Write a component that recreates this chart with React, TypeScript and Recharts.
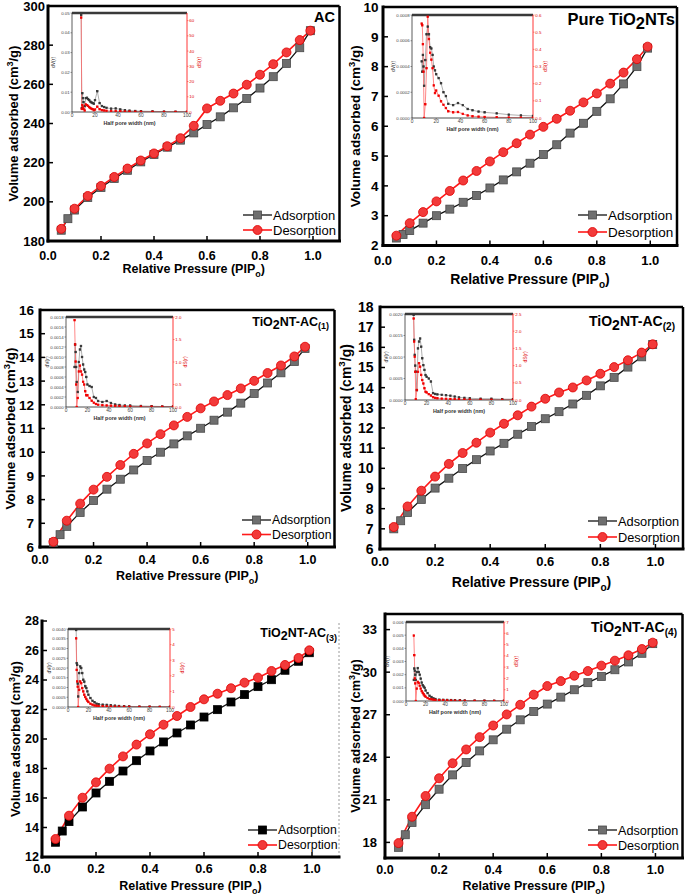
import React from 'react';
import { LineChart, Line, XAxis, YAxis, ReferenceLine, Legend } from 'recharts';

const FONT = '"Liberation Sans", Arial, Helvetica, sans-serif';

// ---------- main isotherm data ----------
const ADS_P = [0.05, 0.075, 0.1, 0.15, 0.2, 0.25, 0.3, 0.35, 0.4, 0.45, 0.5, 0.55, 0.6, 0.65, 0.7, 0.75, 0.8, 0.85, 0.9, 0.95, 0.99];
const DES_P = [0.05, 0.1, 0.15, 0.2, 0.25, 0.3, 0.35, 0.4, 0.45, 0.5, 0.55, 0.6, 0.65, 0.7, 0.75, 0.8, 0.85, 0.9, 0.95, 0.99];
const X_TICKS = [0, 0.2, 0.4, 0.6, 0.8, 1.0];

const AC_ADS = [185.5, 191.4, 195.8, 202.2, 207.3, 211.9, 216.1, 220.4, 224.2, 227.9, 231.5, 235.2, 239.5, 243.4, 248.0, 252.8, 258.1, 263.9, 270.7, 278.7, 287.4];
const AC_DES = [186.2, 196.5, 203.0, 208.1, 212.7, 217.0, 221.1, 224.7, 228.4, 232.5, 238.8, 247.7, 251.6, 255.3, 259.8, 264.9, 270.3, 276.3, 282.6, 287.4];
const AC_Y_TICKS = [180, 200, 220, 240, 260, 280, 300];

const TNT_ADS = [2.25, 2.37, 2.5, 2.75, 3.0, 3.22, 3.45, 3.68, 3.93, 4.2, 4.47, 4.76, 5.05, 5.38, 5.77, 6.1, 6.5, 6.92, 7.42, 8.0, 8.62];
const TNT_DES = [2.33, 2.75, 3.12, 3.48, 3.83, 4.18, 4.5, 4.82, 5.13, 5.43, 5.72, 5.98, 6.25, 6.52, 6.8, 7.1, 7.43, 7.8, 8.25, 8.67];
const TNT_Y_TICKS = [2, 3, 4, 5, 6, 7, 8, 9, 10];

const AC1_ADS = [6.18, 6.52, 6.87, 7.46, 7.96, 8.44, 8.86, 9.25, 9.65, 10.0, 10.35, 10.69, 11.01, 11.35, 11.69, 12.07, 12.48, 12.92, 13.35, 13.83, 14.38];
const AC1_DES = [6.22, 7.11, 7.83, 8.42, 8.96, 9.46, 9.93, 10.37, 10.76, 11.13, 11.49, 11.85, 12.14, 12.41, 12.69, 13.01, 13.34, 13.66, 14.04, 14.45];
const AC1_Y_TICKS = [6, 7, 8, 9, 10, 11, 12, 13, 14, 15, 16];

const AC2_ADS = [7.0, 7.4, 7.81, 8.46, 9.02, 9.51, 9.99, 10.43, 10.86, 11.24, 11.69, 12.07, 12.46, 12.81, 13.19, 13.62, 14.09, 14.51, 15.02, 15.53, 16.14];
const AC2_DES = [7.09, 8.11, 8.89, 9.59, 10.22, 10.76, 11.27, 11.77, 12.21, 12.63, 13.06, 13.45, 13.76, 14.01, 14.36, 14.69, 15.02, 15.36, 15.74, 16.15];
const AC2_Y_TICKS = [6, 7, 8, 9, 10, 11, 12, 13, 14, 15, 16, 17, 18];

const AC3_ADS = [13.0, 13.76, 14.4, 15.39, 16.34, 17.13, 17.83, 18.53, 19.19, 19.8, 20.41, 20.95, 21.49, 21.99, 22.51, 23.01, 23.55, 24.02, 24.66, 25.27, 25.85];
const AC3_DES = [13.22, 14.8, 16.02, 17.06, 17.99, 18.82, 19.62, 20.32, 20.97, 21.56, 22.17, 22.69, 23.07, 23.44, 23.82, 24.16, 24.61, 25.02, 25.49, 26.01];
const AC3_Y_TICKS = [12, 14, 16, 18, 20, 22, 24, 26, 28];

const AC4_ADS = [17.65, 18.54, 19.41, 20.66, 21.75, 22.76, 23.63, 24.45, 25.23, 25.98, 26.64, 27.23, 27.75, 28.24, 28.76, 29.26, 29.7, 30.17, 30.72, 31.33, 32.01];
const AC4_DES = [17.95, 19.81, 21.27, 22.52, 23.58, 24.55, 25.42, 26.24, 27.02, 27.7, 28.41, 29.02, 29.37, 29.75, 30.08, 30.46, 30.81, 31.19, 31.63, 32.08];
const AC4_Y_TICKS = [18, 21, 24, 27, 30, 33];

// ---------- inset pore-size data ----------
const PORE_W = [8, 8.5, 9, 9.5, 10, 11, 12, 13, 14, 15, 16, 17, 18, 19, 20, 22, 24, 26, 28, 30, 34, 38, 42, 46, 50, 55, 60, 70, 80, 90, 100];
const PORE_TICKS = [0, 20, 40, 60, 80, 100];

const AC_DV = [0.049, 0.002, 0.0095, 0.007, 0.005, 0.003, 0.007, 0.0072, 0.0065, 0.006, 0.0052, 0.0048, 0.0045, 0.0042, 0.006, 0.0105, 0.0045, 0.003, 0.0025, 0.0021, 0.0017, 0.0018, 0.0013, 0.0009, 0.0007, 0.0005, 0.0004, 0.0003, 0.0002, 0.00015, 0.0001];
const AC_DS = [62, 2, 4.5, 3, 2, 1, 5, 4.5, 4, 3.2, 2.6, 2.1, 1.8, 1.2, 1.6, 3.5, 1.8, 1.2, 1.0, 0.8, 0.6, 0.6, 0.45, 0.35, 0.3, 0.22, 0.18, 0.14, 0.1, 0.08, 0.05];
const AC_DV_TICKS = [0, 0.01, 0.02, 0.03, 0.04, 0.05];
const AC_DS_TICKS = [0, 10, 20, 30, 40, 50, 60];

const TNT_DV = [0.00044, 0.00036, 0.00049, 0.0004, 0.00025, 0.00045, 0.00065, 0.00071, 0.00065, 0.00055, 0.00054, 0.00049, 0.0004, 0.00037, 0.00034, 0.00031, 0.00027, 0.0002, 0.00017, 0.00011, 0.0001, 0.000116, 0.0001, 0.00007, 0.00006, 0.00005, 0.000044, 0.000036, 0.000026, 0.00002, 0.000016];
const TNT_DS = [0.55, 0.54, 0.43, 0.27, 0.0, 0.08, 0.29, 0.59, 0.46, 0.38, 0.34, 0.29, 0.19, 0.145, 0.16, 0.13, 0.097, 0.077, 0.058, 0.039, 0.033, 0.035, 0.024, 0.015, 0.01, 0.008, 0.006, 0.004, 0.003, 0.002, 0.002];
const TNT_DV_TICKS = [0, 0.0002, 0.0004, 0.0006, 0.0008];
const TNT_DS_TICKS = [0, 0.1, 0.2, 0.3, 0.4, 0.5, 0.6];

const AC1_DV = [0.0008, 0.00125, 0.0011, 0.0008, 0.0005, 0.0003, 0.0009, 0.00115, 0.00122, 0.001, 0.00085, 0.00075, 0.0007, 0.0006, 0.00045, 0.00042, 0.0004, 0.0002, 0.00018, 0.00012, 0.0001, 0.00012, 0.00008, 0.00005, 0.00004, 0.00003, 0.00003, 0.00002, 0.000015, 0.00001, 0.00001];
const AC1_DS = [1.93, 1.39, 1.01, 0.5, 0.0, 0.2, 0.79, 0.92, 0.79, 0.72, 0.56, 0.5, 0.35, 0.26, 0.26, 0.2, 0.14, 0.096, 0.067, 0.05, 0.04, 0.035, 0.03, 0.025, 0.02, 0.015, 0.012, 0.01, 0.008, 0.006, 0.005];
const AC1_DV_TICKS = [0, 0.0002, 0.0004, 0.0006, 0.0008, 0.001, 0.0012, 0.0014, 0.0016, 0.0018];
const AC1_DS_TICKS = [0, 0.5, 1.0, 1.5, 2.0];

const AC2_DV = [0.00198, 0.0014, 0.00105, 0.0008, 0.00066, 0.00023, 0.0012, 0.00136, 0.00143, 0.00124, 0.00097, 0.00081, 0.0007, 0.00058, 0.00054, 0.0005, 0.00043, 0.00016, 0.00014, 0.00013, 0.00012, 0.00011, 0.0001, 0.00008, 0.00006, 0.00005, 0.00004, 0.00003, 0.00003, 0.00002, 0.00002];
const AC2_DS = [2.37, 1.7, 1.26, 0.82, 0.02, 0.29, 0.82, 1.07, 0.97, 0.73, 0.58, 0.48, 0.34, 0.24, 0.22, 0.17, 0.13, 0.08, 0.06, 0.05, 0.04, 0.035, 0.03, 0.025, 0.02, 0.015, 0.01, 0.01, 0.008, 0.006, 0.005];
const AC2_DV_TICKS = [0, 0.0005, 0.001, 0.0015, 0.002];
const AC2_DS_TICKS = [0, 0.5, 1.0, 1.5, 2.0, 2.5];

const AC3_DV = [0.00395, 0.00225, 0.00216, 0.0012, 0.00054, 0.00174, 0.00208, 0.002, 0.00174, 0.0014, 0.0013, 0.00106, 0.00097, 0.0008, 0.00063, 0.00046, 0.00032, 0.00024, 0.00017, 0.00014, 0.00012, 0.00011, 0.00009, 0.00007, 0.00005, 0.00004, 0.00003, 0.00002, 0.00002, 0.00001, 0.00001];
const AC3_DS = [4.4, 2.38, 1.64, 1.3, 0, 1.1, 1.64, 1.53, 1.21, 1.0, 0.79, 0.64, 0.51, 0.4, 0.32, 0.21, 0.15, 0.1, 0.08, 0.06, 0.05, 0.04, 0.03, 0.025, 0.02, 0.015, 0.01, 0.008, 0.006, 0.005, 0.004];
const AC3_DV_TICKS = [0, 0.0005, 0.001, 0.0015, 0.002, 0.0025, 0.003, 0.0035, 0.004];
const AC3_DS_TICKS = [0, 1, 2, 3, 4, 5];

const AC4_DV = [0.0016, 0.00247, 0.0023, 0.002, 0.0016, 0.0022, 0.0025, 0.0022, 0.002, 0.0017, 0.0014, 0.0012, 0.0011, 0.001, 0.0008, 0.0006, 0.0004, 0.0003, 0.0002, 0.00015, 0.0001, 0.00009, 0.00008, 0.00007, 0.00006, 0.00005, 0.00004, 0.00003, 0.00003, 0.00002, 0.00002];
const AC4_DS = [5.8, 4.06, 2.0, 1.56, 0, 1.1, 1.7, 1.6, 1.35, 1.1, 0.88, 0.73, 0.59, 0.47, 0.38, 0.26, 0.18, 0.15, 0.12, 0.09, 0.07, 0.06, 0.05, 0.04, 0.03, 0.025, 0.02, 0.015, 0.01, 0.01, 0.01];
const AC4_DV_TICKS = [0, 0.001, 0.002, 0.003, 0.004, 0.005, 0.006];
const AC4_DS_TICKS = [0, 1, 2, 3, 4, 5, 6, 7];

// ---------- layout / style configuration ----------
const PANELS: any[] = [
  {
    key: 'ac', ads: AC_ADS, des: AC_DES, yTicks: AC_Y_TICKS, yDomain: [180, 300],
    title: [{ t: 'AC' }], titleX: 335, titleY: 22, titleFont: 14.5,
    x0: 48, x1: 339.5, y0: 6, y1: 241,
    yTickFont: 13, xTickFont: 12.5, yTickGap: 3, xTickGap: 10,
    yLabFont: 13, yLabDx: -35, xLabFont: 12.5, xLabDy: 32,
    legX: 243, legY: 215, legGap: 15, legFont: 13, adsFill: '#6f6f6f', adsStroke: '#4a4a4a', frame: 'full',
    inset: { x0: 72, x1: 187, y0: 13, y1: 112, dv: AC_DV, ds: AC_DS, dvTicks: AC_DV_TICKS, dsTicks: AC_DS_TICKS, dvMax: 0.05, dsMax: 65, dvDec: 2, dsDec: 0 },
  },
  {
    key: 'tnt', ads: TNT_ADS, des: TNT_DES, yTicks: TNT_Y_TICKS, yDomain: [2, 10],
    title: [{ t: 'Pure TiO' }, { t: '2', shift: 3.5 }, { t: 'NTs' }], titleX: 675, titleY: 25, titleFont: 16.5,
    x0: 383, x1: 677, y0: 6.5, y1: 245,
    yTickFont: 13.5, xTickFont: 13, yTickGap: 4.5, xTickGap: 10,
    yLabFont: 13.5, yLabDx: -28, xLabFont: 14, xLabDy: 38,
    legX: 578, legY: 215, legGap: 17, legFont: 13.5, adsFill: '#6f6f6f', adsStroke: '#4a4a4a', frame: 'full',
    inset: { x0: 412, x1: 533, y0: 15, y1: 118, dv: TNT_DV, ds: TNT_DS, dvTicks: TNT_DV_TICKS, dsTicks: TNT_DS_TICKS, dvMax: 0.0008, dsMax: 0.6, dvDec: 4, dsDec: 1 },
  },
  {
    key: 'ac1', ads: AC1_ADS, des: AC1_DES, yTicks: AC1_Y_TICKS, yDomain: [6, 16],
    title: [{ t: 'TiO' }, { t: '2', shift: 3 }, { t: 'NT-AC' }, { t: '(1)', sub: true }], titleX: 329, titleY: 325.5, titleFont: 12.5,
    x0: 39.5, x1: 334, y0: 310, y1: 547,
    yTickFont: 13.5, xTickFont: 12.5, yTickGap: 6, xTickGap: 8,
    yLabFont: 13.5, yLabDx: -29.5, xLabFont: 12.5, xLabDy: 33,
    legX: 242, legY: 520, legGap: 14.5, legFont: 12.3, adsFill: '#6f6f6f', adsStroke: '#4a4a4a', frame: 'full',
    inset: { x0: 66, x1: 173, y0: 317, y1: 407, dv: AC1_DV, ds: AC1_DS, dvTicks: AC1_DV_TICKS, dsTicks: AC1_DS_TICKS, dvMax: 0.0018, dsMax: 2.0, dvDec: 4, dsDec: 1 },
  },
  {
    key: 'ac2', ads: AC2_ADS, des: AC2_DES, yTicks: AC2_Y_TICKS, yDomain: [6, 18],
    title: [{ t: 'TiO' }, { t: '2', shift: 3.5 }, { t: 'NT-AC' }, { t: '(2)', sub: true }], titleX: 675, titleY: 326, titleFont: 14,
    x0: 379.5, x1: 682.5, y0: 307, y1: 549,
    yTickFont: 14, xTickFont: 13, yTickGap: 6.5, xTickGap: 8,
    yLabFont: 14, yLabDx: -34.5, xLabFont: 14, xLabDy: 38,
    legX: 588, legY: 521, legGap: 16, legFont: 12.8, adsFill: '#6f6f6f', adsStroke: '#4a4a4a', frame: 'full',
    inset: { x0: 405, x1: 513, y0: 314, y1: 400, dv: AC2_DV, ds: AC2_DS, dvTicks: AC2_DV_TICKS, dsTicks: AC2_DS_TICKS, dvMax: 0.002, dsMax: 2.5, dvDec: 4, dsDec: 1 },
  },
  {
    key: 'ac3', ads: AC3_ADS, des: AC3_DES, yTicks: AC3_Y_TICKS, yDomain: [12, 28],
    title: [{ t: 'TiO' }, { t: '2', shift: 3 }, { t: 'NT-AC' }, { t: '(3)', sub: true }], titleX: 337, titleY: 637, titleFont: 12.5,
    x0: 41.5, x1: 338.5, y0: 621, y1: 857,
    yTickFont: 12.5, xTickFont: 12.5, yTickGap: 3, xTickGap: 7,
    yLabFont: 13, yLabDx: -26.5, xLabFont: 12.5, xLabDy: 33,
    legX: 248, legY: 830, legGap: 15, legFont: 12.3, adsFill: '#000', adsStroke: '#000', frame: 'light',
    inset: { x0: 68, x1: 170, y0: 629, y1: 707, dv: AC3_DV, ds: AC3_DS, dvTicks: AC3_DV_TICKS, dsTicks: AC3_DS_TICKS, dvMax: 0.004, dsMax: 5, dvDec: 4, dsDec: 0 },
  },
  {
    key: 'ac4', ads: AC4_ADS, des: AC4_DES, yTicks: AC4_Y_TICKS, yDomain: [16.9, 34.1],
    title: [{ t: 'TiO' }, { t: '2', shift: 3.5 }, { t: 'NT-AC' }, { t: '(4)', sub: true }], titleX: 677, titleY: 632, titleFont: 14,
    x0: 384.5, x1: 682, y0: 614, y1: 858,
    yTickFont: 13, xTickFont: 12.5, yTickGap: 8, xTickGap: 7,
    yLabFont: 12.8, yLabDx: -29.5, xLabFont: 12.5, xLabDy: 32,
    legX: 588, legY: 830, legGap: 15, legFont: 12.6, adsFill: '#6f6f6f', adsStroke: '#4a4a4a', frame: 'full',
    inset: { x0: 406, x1: 504, y0: 622, y1: 701, dv: AC4_DV, ds: AC4_DS, dvTicks: AC4_DV_TICKS, dsTicks: AC4_DS_TICKS, dvMax: 0.006, dsMax: 7, dvDec: 3, dsDec: 0 },
  },
];

// ---------- marker renderers ----------
const squareDot = (fill: string, stroke: string, s: number) => (props: any) => {
  const { cx, cy, index } = props;
  if (cx == null || cy == null || isNaN(cx) || isNaN(cy)) return <g key={`n${index}`} />;
  return <rect key={`s${index}`} x={cx - s / 2} y={cy - s / 2} width={s} height={s} fill={fill} stroke={stroke} strokeWidth={0.8} />;
};
const circleDot = (fill: string, stroke: string, r: number) => (props: any) => {
  const { cx, cy, index } = props;
  if (cx == null || cy == null || isNaN(cx) || isNaN(cy)) return <g key={`n${index}`} />;
  return <circle key={`c${index}`} cx={cx} cy={cy} r={r} fill={fill} stroke={stroke} strokeWidth={0.8} />;
};

const ADS_LINE = '#111';
const DES_LINE = '#ff1a1a';
const DES_FILL = '#f23a3a';

// ---------- main panel ----------
const ML = 50, MR = 6, MT = 8, MB = 46;

function LegendBox({ c }: any) {
  const f = c.legFont;
  const L = 29;
  const r1 = 9, r2 = 9 + c.legGap;
  return (
    <svg width={115} height={44} style={{ display: 'block', overflow: 'visible' }}>
      <line x1={0} x2={L} y1={r1} y2={r1} stroke={ADS_LINE} strokeWidth={1.3} />
      <rect x={L / 2 - 4} y={r1 - 4} width={8} height={8} fill={c.adsFill} stroke={c.adsStroke} strokeWidth={0.8} />
      <text x={L + 1} y={r1 + f * 0.36} fontFamily={FONT} fontSize={f} fill="#000">Adsorption</text>
      <line x1={0} x2={L} y1={r2} y2={r2} stroke={DES_LINE} strokeWidth={1.6} />
      <circle cx={L / 2} cy={r2} r={4.5} fill={DES_FILL} stroke="#e00000" strokeWidth={0.8} />
      <text x={L + 1} y={r2 + f * 0.36} fontFamily={FONT} fontSize={f} fill="#000">Desorption</text>
    </svg>
  );
}

function MainPanel({ c }: any) {
  const w = c.x1 - c.x0 + ML + MR;
  const h = c.y1 - c.y0 + MT + MB;
  const left = c.x0 - ML;
  const top = c.y0 - MT;
  const ads = ADS_P.map((p, i) => ({ p, v: c.ads[i] }));
  const des = DES_P.map((p, i) => ({ p, v: c.des[i] }));
  const yMax = c.yDomain[1];

  const xLabel = (props: any) => {
    const vb = props.viewBox || {};
    const f = c.xLabFont;
    return (
      <text x={vb.x + vb.width / 2} y={vb.y + c.xLabDy} textAnchor="middle" fontFamily={FONT} fontWeight={700} fontSize={f} fill="#000">
        Relative Pressure (PIP<tspan dy={f * 0.3} fontSize={f * 0.72}>o</tspan><tspan dy={-f * 0.3}>)</tspan>
      </text>
    );
  };
  const yLabel = (props: any) => {
    const vb = props.viewBox || {};
    const f = c.yLabFont;
    const cx = vb.x + vb.width + c.yLabDx;
    const cy = vb.y + vb.height / 2;
    return (
      <text transform={`rotate(-90 ${cx} ${cy})`} x={cx} y={cy + f * 0.36} textAnchor="middle" fontFamily={FONT} fontWeight={700} fontSize={f} fill="#000">
        Volume adsorbed (cm<tspan dy={-f * 0.38} fontSize={f * 0.7}>3</tspan><tspan dy={f * 0.38}>/g)</tspan>
      </text>
    );
  };

  const frameStroke = c.frame === 'light' ? '#9a9a9a' : '#000';
  const frameWidth = c.frame === 'light' ? 1 : 2.5;

  return (
    <div style={{ position: 'absolute', left, top, width: w, height: h }}>
      <LineChart width={w} height={h} margin={{ top: MT, right: MR, bottom: 0, left: 0 }}>
        <XAxis
          type="number" dataKey="p" domain={[0, 1.1]} ticks={X_TICKS} interval={0} allowDataOverflow
          tickFormatter={(v: number) => v.toFixed(1)} height={MB}
          axisLine={{ stroke: '#000', strokeWidth: 3, strokeLinecap: 'square' }}
          tickLine={{ stroke: '#000', strokeWidth: 1.5 }} tickSize={-5} tickMargin={c.xTickGap + 5}
          tick={{ fontSize: c.xTickFont, fontWeight: 700, fill: '#000', fontFamily: FONT }}
          label={xLabel}
        />
        <YAxis
          type="number" domain={c.yDomain} ticks={c.yTicks} interval={0} allowDataOverflow width={ML}
          axisLine={{ stroke: '#000', strokeWidth: 3, strokeLinecap: 'square' }}
          tickLine={{ stroke: '#000', strokeWidth: 1.5 }} tickSize={-5} tickMargin={c.yTickGap + 5}
          tick={{ fontSize: c.yTickFont, fontWeight: 700, fill: '#000', fontFamily: FONT }}
          label={yLabel}
        />
        <ReferenceLine x={1.1} stroke={frameStroke} strokeWidth={frameWidth} strokeDasharray={c.frame === 'light' ? '2 2' : undefined} ifOverflow="visible" />
        {c.frame !== 'light' && <ReferenceLine y={yMax} stroke="#000" strokeWidth={2.5} ifOverflow="visible" />}
        <Line data={ads} dataKey="v" name="Adsorption" type="linear" stroke={ADS_LINE} strokeWidth={1.3}
          dot={squareDot(c.adsFill, c.adsStroke, 8)} activeDot={false} isAnimationActive={false} />
        <Line data={des} dataKey="v" name="Desorption" type="linear" stroke={DES_LINE} strokeWidth={1.6}
          dot={circleDot(DES_FILL, '#e00000', 4.5)} activeDot={false} isAnimationActive={false} />
        <Legend layout="vertical" align="center" verticalAlign="middle"
          wrapperStyle={{ left: c.legX - left, top: c.legY - 9 - top, width: 115, height: 44, margin: 0, padding: 0 }}
          content={() => <LegendBox c={c} />} />
      </LineChart>
    </div>
  );
}

// ---------- inset ----------
const IL = 24, IR = 20, IT = 4, IB = 20;

function InsetPanel({ s }: any) {
  const w = s.x1 - s.x0 + IL + IR;
  const h = s.y1 - s.y0 + IT + IB;
  const data = PORE_W.map((r, i) => ({ r, dv: s.dv[i], ds: s.ds[i] }));
  const xLab = (props: any) => {
    const vb = props.viewBox || {};
    return (
      <text x={vb.x + vb.width / 2} y={vb.y + 12.8} textAnchor="middle" fontFamily={FONT} fontWeight={700} fontSize={5.4} fill="#333">
        Half pore width (nm)
      </text>
    );
  };
  const lLab = (props: any) => {
    const vb = props.viewBox || {};
    const cx = vb.x + vb.width - 19;
    const cy = vb.y + vb.height / 2;
    return (
      <text transform={`rotate(-90 ${cx} ${cy})`} x={cx} y={cy + 1.8} textAnchor="middle" fontFamily={FONT} fontSize={5} fill="#333">dV(r)</text>
    );
  };
  const rLab = (props: any) => {
    const vb = props.viewBox || {};
    const cx = vb.x + 12;
    const cy = vb.y + vb.height / 2;
    return (
      <text transform={`rotate(-90 ${cx} ${cy})`} x={cx} y={cy + 1.8} textAnchor="middle" fontFamily={FONT} fontSize={5} fill="#e00000">dS(r)</text>
    );
  };
  return (
    <div style={{ position: 'absolute', left: s.x0 - IL, top: s.y0 - IT, width: w, height: h }}>
      <LineChart width={w} height={h} data={data} margin={{ top: IT, right: 0, bottom: 0, left: 0 }}>
        <XAxis type="number" dataKey="r" domain={[0, 100]} ticks={PORE_TICKS} interval={0} allowDataOverflow height={IB}
          axisLine={{ stroke: '#222', strokeWidth: 0.8 }} tickLine={{ stroke: '#222', strokeWidth: 0.5 }}
          tickSize={1.5} tickMargin={0.5} tick={{ fontSize: 4.8, fill: '#444', fontFamily: FONT }} label={xLab} />
        <YAxis yAxisId="l" type="number" domain={[0, s.dvMax]} ticks={s.dvTicks} interval={0} allowDataOverflow width={IL}
          tickFormatter={(v: number) => v.toFixed(s.dvDec)}
          axisLine={{ stroke: '#333', strokeWidth: 0.8 }} tickLine={{ stroke: '#333', strokeWidth: 0.5 }}
          tickSize={1.5} tickMargin={0.8} tick={{ fontSize: 4.4, fill: '#444', fontFamily: FONT }} label={lLab} />
        <YAxis yAxisId="r" orientation="right" type="number" domain={[0, s.dsMax]} ticks={s.dsTicks} interval={0} allowDataOverflow width={IR}
          tickFormatter={(v: number) => v.toFixed(s.dsDec)}
          axisLine={{ stroke: '#ff2020', strokeWidth: 0.9 }} tickLine={{ stroke: '#ff2020', strokeWidth: 0.5 }}
          tickSize={1.5} tickMargin={0.8} tick={{ fontSize: 4.4, fill: '#e00000', fontFamily: FONT }} label={rLab} />
        <ReferenceLine yAxisId="l" y={s.dvMax} stroke="#3a3a3a" strokeWidth={2.5} ifOverflow="visible" />
        <Line yAxisId="l" dataKey="dv" type="linear" stroke="#8c8c8c" strokeWidth={0.7}
          dot={squareDot('#333', '#333', 1.5)} activeDot={false} isAnimationActive={false} />
        <Line yAxisId="r" dataKey="ds" type="linear" stroke="#ff6a6a" strokeWidth={0.8}
          dot={squareDot('#f00000', '#f00000', 1.5)} activeDot={false} isAnimationActive={false} />
      </LineChart>
    </div>
  );
}

// ---------- titles ----------
function Title({ c }: any) {
  const f = c.titleFont;
  let cur = 0;
  const parts = c.title.map((seg: any, i: number) => {
    const target = seg.sub ? f * 0.3 : seg.shift || 0;
    const dy = target - cur;
    cur = target;
    return (
      <tspan key={i} dy={dy} fontSize={seg.sub ? f * 0.72 : f}>{seg.t}</tspan>
    );
  });
  return (
    <text x={c.titleX} y={c.titleY} textAnchor="end" fontFamily={FONT} fontWeight={700} fontSize={f} fill="#000">
      {parts}
    </text>
  );
}

export default function App() {
  return (
    <div style={{ position: 'absolute', left: 0, top: 0, width: 685, height: 895, background: '#fff', overflow: 'hidden' }}>
      {PANELS.map((c) => <MainPanel key={c.key} c={c} />)}
      {PANELS.map((c) => <InsetPanel key={`i-${c.key}`} s={c.inset} />)}
      <svg width={685} height={895} style={{ position: 'absolute', left: 0, top: 0, pointerEvents: 'none' }}>
        {PANELS.map((c) => <Title key={`t-${c.key}`} c={c} />)}
      </svg>
    </div>
  );
}
